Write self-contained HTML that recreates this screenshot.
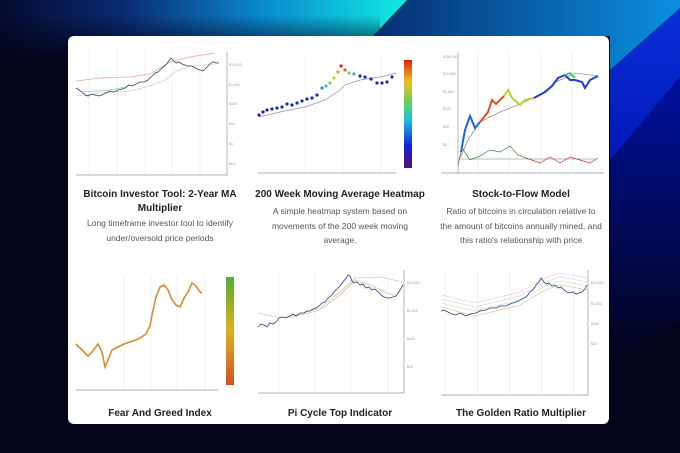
<!DOCTYPE html>
<html><head><style>
body{margin:0;width:680px;height:453px;overflow:hidden;background:#03041a;font-family:"Liberation Sans",sans-serif}
.card{position:absolute;left:68px;top:36px;width:541px;height:388px;background:#fff;border-radius:6px}
.t{position:absolute;text-align:center;font-weight:bold;font-size:10px;color:#222;line-height:14px}
.d{position:absolute;text-align:center;font-size:8.5px;color:#555;line-height:14.5px}
svg text{font-family:"Liberation Sans",sans-serif}
</style></head><body>
<svg width="680" height="453" style="position:absolute;left:0;top:0">
<defs>
<linearGradient id="g1" x1="0" y1="0" x2="1" y2="0"><stop offset="0" stop-color="#050a30"/><stop offset="0.3" stop-color="#0a2a70"/><stop offset="0.65" stop-color="#0a8ad0"/><stop offset="1" stop-color="#10ece0"/></linearGradient>
<linearGradient id="fade" x1="0" y1="0" x2="0" y2="1"><stop offset="0" stop-color="#03041a" stop-opacity="0"/><stop offset="1" stop-color="#03041a" stop-opacity="1"/></linearGradient>
<linearGradient id="gm" x1="0" y1="0" x2="1" y2="0"><stop offset="0" stop-color="#062e70"/><stop offset="1" stop-color="#0a90e0"/></linearGradient>
<linearGradient id="gr" x1="0" y1="0" x2="0" y2="1"><stop offset="0" stop-color="#0a30d8"/><stop offset="1" stop-color="#0018b8"/></linearGradient>
<linearGradient id="gb" x1="0" y1="0" x2="0" y2="1"><stop offset="0" stop-color="#0010a0"/><stop offset="1" stop-color="#03041a"/></linearGradient>
</defs>
<polygon points="0,0 407,0 373,36 373,60 0,60" fill="url(#g1)"/>
<rect x="0" y="15" width="380" height="46" fill="url(#fade)"/>
<polygon points="407,0 680,0 680,8 610,70 610,36 373,36" fill="url(#gm)"/>
<polygon points="680,8 680,77 610,160 610,70" fill="url(#gr)"/>
<polygon points="680,77 680,320 610,360 610,160" fill="url(#gb)"/>
</svg>
<div class="card"></div>
<svg width="680" height="453" style="position:absolute;left:0;top:0">
<g stroke="#e8e8e8" stroke-width="0.6">
<line x1="89" y1="50" x2="89" y2="175"/><line x1="117" y1="50" x2="117" y2="175"/><line x1="145" y1="50" x2="145" y2="175"/><line x1="172" y1="50" x2="172" y2="175"/><line x1="200" y1="50" x2="200" y2="175"/>
<line x1="305" y1="58" x2="305" y2="173"/><line x1="343" y1="58" x2="343" y2="173"/><line x1="381" y1="58" x2="381" y2="173"/>
<line x1="478" y1="52" x2="478" y2="173"/><line x1="509" y1="52" x2="509" y2="173"/><line x1="541" y1="52" x2="541" y2="173"/><line x1="572" y1="52" x2="572" y2="173"/>
<line x1="124" y1="275" x2="124" y2="390"/><line x1="151" y1="275" x2="151" y2="390"/><line x1="177" y1="275" x2="177" y2="390"/><line x1="205" y1="275" x2="205" y2="390"/>
<line x1="279" y1="270" x2="279" y2="393"/><line x1="315" y1="270" x2="315" y2="393"/><line x1="351" y1="270" x2="351" y2="393"/><line x1="388" y1="270" x2="388" y2="393"/>
<line x1="445" y1="270" x2="445" y2="395"/><line x1="478" y1="270" x2="478" y2="395"/><line x1="510" y1="270" x2="510" y2="395"/><line x1="542" y1="270" x2="542" y2="395"/><line x1="574" y1="270" x2="574" y2="395"/>
</g>
<g stroke="#999" stroke-width="0.7" fill="none">
<path d="M76,175H227V52"/><path d="M258,173H396"/><path d="M441,173H604M458,52V173"/>
<path d="M76,390H218"/><path d="M258,393H404V270"/><path d="M441,395H588V270"/>
</g>
<polyline fill="none" stroke="#e8a0a0" stroke-width="0.7" points="76,81 100,78 130,77 150,74 170,62 190,57 215,53"/>
<polyline fill="none" stroke="#d8b0b8" stroke-width="0.6" points="76,96 100,93 130,91 150,86 165,80 175,72 190,66 215,64"/>
<polyline fill="none" stroke="#8cd0a0" stroke-width="0.7" points="82,92 110,90 125,87"/>
<polyline fill="none" stroke="#2a4a60" stroke-width="0.8" points="76,88 79,90 82,92 85,95 88,96 91,94 95,95 99,96 102,95 106,93 110,91 114,92 118,90 122,89 125,88 129,85 132,86 136,84 140,82 144,82 148,80 152,76 155,73 158,72 162,68 165,66 168,62 171,58 174,61 176,63 179,62 182,64 185,65 188,66 191,66 194,67 197,69 200,70 203,71 205,69 208,66 210,64 212,62 214,62 216,63 219,63"/>
<polyline fill="none" stroke="#9a88c8" stroke-width="0.7" points="259,117 280,112 305,107 325,100 340,90 345,85 360,80 385,76 396,73"/>
<g fill="#1a2ab0"><circle cx="259" cy="115" r="1.6"/><circle cx="263" cy="112" r="1.6"/><circle cx="267" cy="110" r="1.6"/><circle cx="272" cy="109" r="1.6"/><circle cx="277" cy="108" r="1.6"/><circle cx="282" cy="107" r="1.6"/><circle cx="287" cy="104" r="1.6"/><circle cx="292" cy="105" r="1.6"/><circle cx="297" cy="103" r="1.6"/><circle cx="302" cy="101" r="1.6"/><circle cx="307" cy="99" r="1.6"/><circle cx="312" cy="98" r="1.6"/><circle cx="317" cy="95" r="1.6"/><circle cx="360" cy="76" r="1.6"/><circle cx="365" cy="77" r="1.6"/><circle cx="371" cy="79" r="1.6"/><circle cx="377" cy="83" r="1.6"/><circle cx="382" cy="83" r="1.6"/><circle cx="387" cy="82" r="1.6"/><circle cx="392" cy="77" r="1.6"/></g>
<g><circle cx="322" cy="88" r="1.6" fill="#2a8ad0"/><circle cx="326" cy="86" r="1.6" fill="#30c0d0"/><circle cx="330" cy="83" r="1.6" fill="#80d040"/><circle cx="334" cy="78" r="1.6" fill="#c0d030"/><circle cx="338" cy="72" r="1.6" fill="#f0a020"/><circle cx="341" cy="66" r="1.6" fill="#e02020"/><circle cx="345" cy="70" r="1.6" fill="#e06040"/><circle cx="349" cy="73" r="1.6" fill="#70d070"/><circle cx="354" cy="74" r="1.6" fill="#30b0e0"/></g>
<defs><linearGradient id="jet" x1="0" y1="1" x2="0" y2="0"><stop offset="0" stop-color="#5a1070"/><stop offset="0.2" stop-color="#1020e0"/><stop offset="0.45" stop-color="#20c0e0"/><stop offset="0.6" stop-color="#60d060"/><stop offset="0.8" stop-color="#f0c020"/><stop offset="1" stop-color="#e02010"/></linearGradient>
<linearGradient id="fg" x1="0" y1="1" x2="0" y2="0"><stop offset="0" stop-color="#d05020"/><stop offset="0.5" stop-color="#e0b020"/><stop offset="1" stop-color="#50b030"/></linearGradient></defs>
<rect x="404" y="60" width="8" height="108" fill="url(#jet)"/>
<polyline fill="none" stroke="#666" stroke-width="0.6" points="459,160 468,140 480,122 500,112 520,104 540,95 556,82 575,73 598,76"/>
<polyline fill="none" stroke="#2060e0" stroke-width="2" points="461,152 465,130 470,116 475,128 480,122"/>
<polyline fill="none" stroke="#e05020" stroke-width="2" points="480,122 488,112 492,100 496,104 504,96"/>
<polyline fill="none" stroke="#c0d020" stroke-width="2" points="504,96 508,90 512,98 520,105 525,100 534,98"/>
<polyline fill="none" stroke="#2040d0" stroke-width="2" points="534,98 545,92 552,86 558,78 565,75 570,80 575,80 582,82 585,88 590,80 598,76"/>
<polyline fill="none" stroke="#40d060" stroke-width="2" points="565,75 570,73 575,78"/>
<line x1="458" y1="159" x2="595" y2="159" stroke="#bbb" stroke-width="1"/>
<polyline fill="none" stroke="#3a8a3a" stroke-width="0.7" points="458,165 462,148 470,160 480,156 490,150 500,152 510,146 518,155 526,158"/>
<polyline fill="none" stroke="#c03030" stroke-width="0.7" points="526,158 540,163 550,157 560,163 570,157 580,160 590,163 598,158"/>
<polyline fill="none" stroke="#d09030" stroke-width="1.6" points="76,344 82,350 88,356 92,352 98,344 102,352 105,367 108,360 112,350 118,347 124,344 130,342 136,340 140,338 146,334 150,326 152,315 156,297 160,287 164,285 168,290 172,300 176,305 180,307 184,298 188,292 192,283 196,286 200,292 202,293"/>
<rect x="226" y="277" width="8" height="108" fill="url(#fg)"/>
<polyline fill="none" stroke="#a8c0b8" stroke-width="0.6" points="258,313 280,318 300,314 320,308 340,292 355,278 380,277 403,282"/>
<polyline fill="none" stroke="#e0a070" stroke-width="0.6" points="290,318 320,310 340,295 355,280 370,285 385,292 395,296"/>
<polyline fill="none" stroke="#2a4480" stroke-width="0.8" points="258,327 261,324 264,325 267,327 270,323 273,324 276,322 279,318 282,317 286,318 290,316 293,314 296,316 300,313 304,313 307,311 310,311 313,309 316,308 319,306 322,303 325,302 328,298 331,296 334,292 337,289 340,286 343,282 346,278 348,275 350,276 352,281 354,283 357,282 360,285 363,284 366,288 369,287 372,290 375,289 378,292 381,295 384,297 387,298 390,298 393,297 396,296 398,293 400,290 403,285"/>
<polyline fill="none" stroke="#f0c0c0" stroke-width="0.6" points="441,295 475,303 520,292 545,278 560,273 588,278"/>
<polyline fill="none" stroke="#d0c0f0" stroke-width="0.6" points="441,299 475,307 520,296 545,282 560,277 588,282"/>
<polyline fill="none" stroke="#b0e0b0" stroke-width="0.6" points="441,303 475,311 520,300 545,286 560,281 588,286"/>
<polyline fill="none" stroke="#f0b080" stroke-width="0.6" points="441,307 475,316 520,305 545,290 560,285 588,290"/>
<polyline fill="none" stroke="#2a4480" stroke-width="0.8" points="441,311 444,310 448,312 452,314 456,315 460,313 466,316 470,314 476,313 480,311 486,310 490,308 496,308 500,306 506,306 510,304 516,302 520,300 524,298 527,296 530,292 533,290 536,285 539,282 541,278 544,282 546,284 549,283 552,286 555,285 558,288 561,287 564,290 567,292 570,293 573,292 576,294 579,293 582,292 585,289 587,285"/>
<g font-size="3.5" fill="#999">
<text x="229" y="66">$10,000</text><text x="229" y="86">$1,000</text><text x="229" y="105">$100</text><text x="229" y="125">$10</text><text x="229" y="145">$1</text><text x="229" y="165">$0.1</text>
<text x="407" y="284">$10,000</text><text x="407" y="312">$1,000</text><text x="407" y="340">$100</text><text x="407" y="368">$10</text>
<text x="591" y="284">$10,000</text><text x="591" y="305">$1,000</text><text x="591" y="325">$100</text><text x="591" y="345">$10</text>
<text x="443" y="58">$100,000</text><text x="443" y="75">$10,000</text><text x="443" y="93">$1,000</text><text x="443" y="110">$100</text><text x="443" y="128">$10</text><text x="443" y="146">$1</text>
</g>
</svg>
<div class="t" style="left:78px;top:188px;width:164px">Bitcoin Investor Tool: 2-Year MA Multiplier</div>
<div class="d" style="left:78px;top:216px;width:164px">Long timeframe investor tool to identify under/oversold price periods</div>
<div class="t" style="left:255px;top:188px;width:170px">200 Week Moving Average Heatmap</div>
<div class="d" style="left:270px;top:204px;width:140px">A simple heatmap system based on movements of the 200 week moving average.</div>
<div class="t" style="left:440px;top:188px;width:162px">Stock-to-Flow Model</div>
<div class="d" style="left:440px;top:204px;width:162px">Ratio of bitcoins in circulation relative to the amount of bitcoins annually mined, and this ratio's relationship with price</div>
<div class="t" style="left:78px;top:407px;width:164px">Fear And Greed Index</div>
<div class="t" style="left:255px;top:407px;width:170px">Pi Cycle Top Indicator</div>
<div class="t" style="left:440px;top:407px;width:162px">The Golden Ratio Multiplier</div>
</body></html>
